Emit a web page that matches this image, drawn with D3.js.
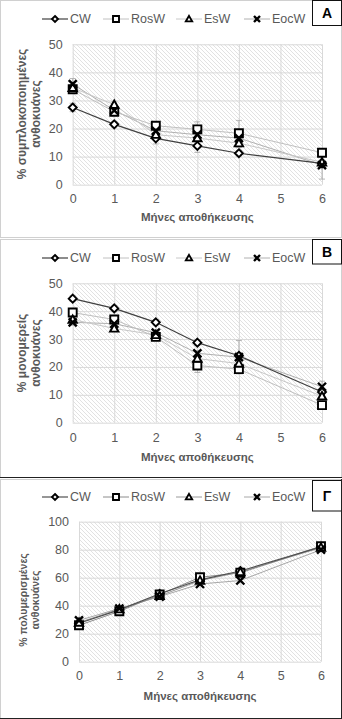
<!DOCTYPE html>
<html>
<head>
<meta charset="utf-8">
<script src="https://cdn.jsdelivr.net/npm/d3@7"></script>
<style>
  html, body { margin: 0; padding: 0; background: #fff; }
  svg { display: block; font-family: "Liberation Sans", Arial, sans-serif; }
</style>
</head>
<body>
<svg id="chart" width="342" height="719"></svg>
<script>
// Storage months (x values)
const months = [0, 1, 2, 3, 4, 6];
const seriesNames = ["CW", "RosW", "EsW", "EocW"];

// A: % complexed anthocyanins
const complexedCW   = [27.5, 21.5, 16.5, 13.8, 11.2, 7.6];
const complexedRosW = [34.0, 26.0, 21.0, 19.7, 18.3, 11.4];
const complexedEsW  = [34.5, 28.5, 17.8, 16.6, 14.8, 8.0];
const complexedEocW = [35.8, 26.5, 19.2, 17.8, 16.6, 7.0];
const complexedErrCW   = [1.5, 1.0, 2.0, 2.3, 1.0, 1.0];
const complexedErrRosW = [1.5, 1.5, 1.0, 2.7, 4.6, 1.0];
const complexedErrEsW  = [1.0, 1.0, 1.5, 1.0, 1.5, 1.0];
const complexedErrEocW = [2.0, 1.0, 1.0, 1.0, 2.0, 5.0];

// B: % monomeric anthocyanins
const monomericCW   = [44.5, 41.0, 36.0, 28.7, 24.0, 11.0];
const monomericRosW = [39.5, 37.0, 30.8, 20.5, 19.2, 6.3];
const monomericEsW  = [37.0, 33.8, 31.5, 23.0, 21.2, 9.5];
const monomericEocW = [36.0, 35.5, 32.3, 24.9, 23.5, 12.9];
const monomericErrCW   = [1.0, 1.0, 1.0, 1.0, 1.0, 1.0];
const monomericErrRosW = [1.5, 1.5, 1.0, 2.5, 1.5, 1.0];
const monomericErrEsW  = [1.0, 1.0, 1.0, 1.0, 1.0, 1.0];
const monomericErrEocW = [1.0, 1.0, 1.0, 1.0, 6.0, 2.0];

// Γ: % polymeric anthocyanins
const polymericCW   = [27.5, 37.0, 48.5, 58.5, 64.8, 82.0];
const polymericRosW = [26.0, 36.0, 48.0, 60.3, 63.5, 82.5];
const polymericEsW  = [28.0, 37.5, 47.0, 58.0, 64.0, 81.5];
const polymericEocW = [29.5, 38.0, 46.5, 55.5, 58.0, 80.0];
const polymericErr  = [1.0, 1.0, 1.0, 1.0, 1.0, 1.0];

const yTicksA = [0, 10, 20, 30, 40, 50];
const yTicksB = [0, 10, 20, 30, 40, 50];
const yTicksC = [0, 20, 40, 60, 80, 100];
const xTicks = [0, 1, 2, 3, 4, 5, 6];

const xTitle = "Μήνες αποθήκευσης";

const panels = [
  {
    letter: "A", top: 0, bottom: 237,
    yTitle: ["% συμπλοκοποιημένες", "ανθοκυάνες"], titleSize: 12, titleCy: 114,
    x0: 72.7, x1: 322, y0: 184.7, y1: 44.3, yMax: 50, yTicks: yTicksA,
    legendY: 19, box: [0.5, 25.5], letterY: 13,
    series: [
      { name: "CW", values: complexedCW, err: complexedErrCW },
      { name: "RosW", values: complexedRosW, err: complexedErrRosW },
      { name: "EsW", values: complexedEsW, err: complexedErrEsW },
      { name: "EocW", values: complexedEocW, err: complexedErrEocW }
    ],
    xLabelY: 199, xTitleY: 217, darkBottom: false
  },
  {
    letter: "Β", top: 239, bottom: 477,
    yTitle: ["% μονομερείς", "ανθοκυάνες"], titleSize: 12, titleCy: 353,
    x0: 72.7, x1: 322, y0: 422.7, y1: 283.3, yMax: 50, yTicks: yTicksB,
    legendY: 258, box: [239.5, 264], letterY: 252,
    series: [
      { name: "CW", values: monomericCW, err: monomericErrCW },
      { name: "RosW", values: monomericRosW, err: monomericErrRosW },
      { name: "EsW", values: monomericEsW, err: monomericErrEsW },
      { name: "EocW", values: monomericEocW, err: monomericErrEocW }
    ],
    xLabelY: 438, xTitleY: 457, darkBottom: true
  },
  {
    letter: "Γ", top: 479, bottom: 718,
    yTitle: ["% πολυμερισμένες", "ανθοκυάνες"], titleSize: 10.5, titleCy: 600,
    x0: 79, x1: 321, y0: 661.7, y1: 521.7, yMax: 100, yTicks: yTicksC,
    legendY: 497, box: [480.5, 511], letterY: 496,
    series: [
      { name: "CW", values: polymericCW, err: polymericErr },
      { name: "RosW", values: polymericRosW, err: polymericErr },
      { name: "EsW", values: polymericEsW, err: polymericErr },
      { name: "EocW", values: polymericEocW, err: polymericErr }
    ],
    xLabelY: 676, xTitleY: 696, darkBottom: true
  }
];

const lineColor = { CW: "#404040", RosW: "#c0c0c0", EsW: "#c8c8c8", EocW: "#b0b0b0" };
const lineColorC = { CW: "#505050", RosW: "#8c8c8c", EsW: "#9a9a9a", EocW: "#a8a8a8" };
const textGrey = "#595959";

const svg = d3.select("#chart");

// diagonal hatching used for the plot backgrounds
const defs = svg.append("defs");
const pat = defs.append("pattern")
  .attr("id", "hatch").attr("patternUnits", "userSpaceOnUse")
  .attr("width", 4).attr("height", 4);
pat.append("rect").attr("width", 4).attr("height", 4).attr("fill", "#ffffff");
pat.append("path").attr("d", "M-1,-1L5,5M-1,3L1,5M3,-1L5,1")
  .attr("stroke", "#dadada").attr("stroke-width", 0.8);

// marker shapes
function markerPath(name, s) {
  switch (name) {
    case "CW": return `M0,${-s}L${s},0L0,${s}L${-s},0Z`;
    case "RosW": return `M${-s},${-s}H${s}V${s}H${-s}Z`;
    case "EsW": return `M0,${-s * 1.05}L${s * 1.05},${s * 0.8}L${-s * 1.05},${s * 0.8}Z`;
    case "EocW": return `M${-s},${-s}L${s},${s}M${s},${-s}L${-s},${s}`;
  }
}
function drawMarker(g, name, x, y, s) {
  g.append("path")
    .attr("transform", `translate(${x},${y})`)
    .attr("d", markerPath(name, s))
    .attr("fill", name === "EocW" ? "none" : "#fff")
    .attr("stroke", "#000")
    .attr("stroke-width", name === "EocW" ? 2.4 : 1.9);
}

// legend entries: [line start, line end, text x]
const legendLayout = {
  CW: [42, 68, 70], RosW: [103, 129, 131], EsW: [176, 202, 204], EocW: [244, 270, 272]
};

panels.forEach((p, pi) => {
  const g = svg.append("g");

  // panel frame
  g.append("rect")
    .attr("x", 0.5).attr("y", p.top + 0.5)
    .attr("width", 341).attr("height", p.bottom - p.top)
    .attr("fill", "#fff").attr("stroke", "#d0d0d0");
  if (p.darkBottom) {
    g.append("line").attr("x1", 0).attr("x2", 342)
      .attr("y1", p.bottom + 0.5).attr("y2", p.bottom + 0.5)
      .attr("stroke", "#222");
  }

  const x = d3.scaleLinear().domain([0, 6]).range([p.x0, p.x1]);
  const y = d3.scaleLinear().domain([0, p.yMax]).range([p.y0, p.y1]);

  // plot background
  g.append("rect")
    .attr("x", p.x0).attr("y", p.y1)
    .attr("width", p.x1 - p.x0).attr("height", p.y0 - p.y1)
    .attr("fill", "url(#hatch)");

  // grid lines
  const gy = g.append("g")
    .attr("transform", `translate(${p.x0},0)`)
    .call(d3.axisLeft(y).tickValues(p.yTicks).tickSize(-(p.x1 - p.x0)).tickFormat(""));
  gy.select(".domain").remove();
  gy.selectAll("line").attr("stroke", "#d9d9d9");

  const gx = g.append("g")
    .attr("transform", `translate(0,${p.y1})`)
    .call(d3.axisBottom(x).tickValues(xTicks).tickSize(p.y0 - p.y1).tickFormat(""));
  gx.select(".domain").remove();
  gx.selectAll("line").attr("stroke", "#d9d9d9");

  // tick labels
  const ly = g.append("g")
    .attr("transform", `translate(${p.x0 - 10},0)`)
    .call(d3.axisLeft(y).tickValues(p.yTicks).tickSize(0).tickPadding(0));
  ly.select(".domain").remove();
  ly.selectAll("text").attr("fill", textGrey)
    .style("font-size", "12.5px").style("font-family", "'Liberation Sans', Arial, sans-serif");

  const lx = g.append("g")
    .attr("transform", `translate(0,${p.xLabelY - 5})`)
    .call(d3.axisBottom(x).tickValues(xTicks).tickSize(0).tickPadding(0).tickFormat(d3.format("d")));
  lx.select(".domain").remove();
  lx.selectAll("text").attr("fill", textGrey)
    .style("font-size", "12.5px").style("font-family", "'Liberation Sans', Arial, sans-serif");

  // axis titles
  g.append("text")
    .attr("x", (p.x0 + p.x1) / 2).attr("y", p.xTitleY)
    .attr("text-anchor", "middle").attr("dominant-baseline", "central")
    .attr("fill", textGrey).attr("font-weight", "bold").attr("font-size", 11.5)
    .text(xTitle);

  const yt = g.append("text")
    .attr("transform", `translate(31,${p.titleCy}) rotate(-90)`)
    .attr("text-anchor", "middle")
    .attr("fill", textGrey).attr("font-weight", "bold").attr("font-size", p.titleSize);
  yt.append("tspan").attr("x", 0).attr("dy", "-0.4em").text(p.yTitle[0]);
  yt.append("tspan").attr("x", 0).attr("dy", "1.15em").text(p.yTitle[1]);

  const colors = pi === 2 ? lineColorC : lineColor;

  // error bars
  p.series.forEach(s => {
    const eg = g.append("g");
    months.forEach((m, i) => {
      const cx = x(m), lo = y(s.values[i] - s.err[i]), hi = y(s.values[i] + s.err[i]);
      eg.append("path")
        .attr("d", `M${cx},${lo}V${hi}M${cx - 3},${lo}H${cx + 3}M${cx - 3},${hi}H${cx + 3}`)
        .attr("stroke", "#a6a6a6").attr("stroke-width", 0.8).attr("fill", "none");
    });
  });

  // series lines
  const line = d3.line().x((d, i) => x(months[i])).y(d => y(d));
  p.series.slice().reverse().forEach(s => {
    g.append("path").datum(s.values)
      .attr("d", line).attr("fill", "none")
      .attr("stroke", colors[s.name]).attr("stroke-width", s.name === "CW" ? 1.2 : 1);
  });

  // markers
  p.series.forEach(s => {
    const mg = g.append("g");
    months.forEach((m, i) => drawMarker(mg, s.name, x(m), y(s.values[i]), 4));
  });

  // legend
  seriesNames.forEach(n => {
    const [a, b, tx] = legendLayout[n];
    g.append("line").attr("x1", a).attr("x2", b)
      .attr("y1", p.legendY).attr("y2", p.legendY)
      .attr("stroke", colors[n]).attr("stroke-width", n === "CW" ? 1.2 : 1);
    drawMarker(g, n, (a + b) / 2, p.legendY, 3);
    g.append("text").attr("x", tx).attr("y", p.legendY)
      .attr("dominant-baseline", "central")
      .attr("fill", textGrey).attr("font-size", 12.5).text(n);
  });

  // panel letter box
  g.append("rect")
    .attr("x", 312.5).attr("y", p.box[0])
    .attr("width", 29).attr("height", p.box[1] - p.box[0])
    .attr("fill", "#fff").attr("stroke", "#111");
  g.append("text")
    .attr("x", 327).attr("y", p.letterY)
    .attr("text-anchor", "middle").attr("dominant-baseline", "central")
    .attr("font-weight", "bold").attr("font-size", 14).attr("fill", "#000")
    .text(p.letter);
});

// outer frame right edge on last panel
svg.append("line").attr("x1", 341.5).attr("x2", 341.5).attr("y1", 479).attr("y2", 719)
  .attr("stroke", "#222");
</script>
</body>
</html>
